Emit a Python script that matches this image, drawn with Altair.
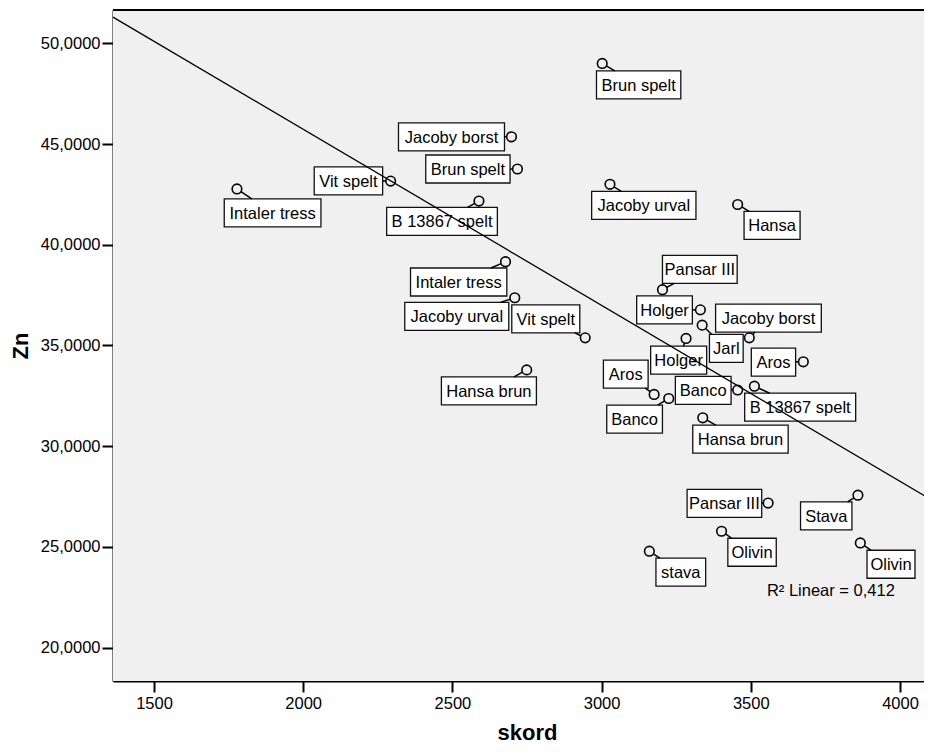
import math
import altair as alt
import pandas as pd

# ---------------- data ----------------
names = ["Intaler tress", "Vit spelt", "Jacoby borst", "Brun spelt", "Brun spelt",
         "B 13867 spelt", "Jacoby urval", "Hansa", "Intaler tress", "Jacoby urval",
         "Vit spelt", "Hansa brun", "Pansar III", "Holger", "Jarl", "Jacoby borst",
         "Holger", "Aros", "Aros", "Banco", "Banco", "B 13867 spelt", "Hansa brun",
         "Pansar III", "Stava", "Olivin", "Olivin", "stava"]
skord = [1778, 2293, 2698, 2718, 3002, 2589, 3028, 3456, 2678, 2709,
         2945, 2749, 3204, 3331, 3337, 3495, 3283, 3676, 3176, 3225,
         3456, 3512, 3339, 3558, 3859, 3402, 3867, 3160]
zn = [42.77, 43.16, 45.36, 43.76, 49.00, 42.17, 43.00, 42.00, 39.16, 37.37,
      35.38, 33.79, 37.77, 36.77, 36.01, 35.38, 35.35, 34.19, 32.57, 32.37,
      32.79, 32.98, 31.41, 27.18, 27.57, 25.78, 25.20, 24.79]

x_ticks = [1500, 2000, 2500, 3000, 3500, 4000]
y_ticks = [20, 25, 30, 35, 40, 45, 50]

r2_label = ["R² Linear = 0,412"]
r2_x = [3554]
r2_y = [22.57]

# ---------------- layout (label box placement, pixels) ----------------
lab_dx = [-12.7, -76.4, -113, -91.7, -5.7, -92.3, -18.3, 6.4, -95, -110,
          -73.4, -85.3, 0, -63.7, 7.3, -33.7, -35.4, -52, -50.7, -62,
          -62.3, -9.7, -10, -81, -57.4, 6.3, 6.7, 6.6]
lab_dy = [10, -14.3, -14, -14, 7.4, 6.3, 7, 7, 6.3, 4.6,
          -33, 7, -34.4, -14, 9.3, -33.7, 7.7, -13.7, -34.3, 6.7,
          -13.7, 7, 7.3, -13.7, 6.7, 7, 7.3, 7]
lab_w = [96.7, 68.4, 106, 84.3, 84.3, 110.7, 104.3, 56, 96.3, 104,
         68, 95, 74.7, 55.7, 33.7, 105.7, 56, 44.3, 44.7, 55.7,
         55.7, 111, 95.4, 74.6, 51.4, 48.4, 48, 49.7]
BOX_H = 28
R_CIRC = 4.8

W, H = 811, 671
PPX = 746 / 2500.0       # pixels per skord unit
PPY = 604.4 / 30.0       # pixels per Zn unit
X0 = 1500 - 41 / PPX
X1 = X0 + W / PPX
Y1 = 50 + 33.3 / PPY
Y0 = Y1 - H / PPY

FONT = "Liberation Sans"

pts = pd.DataFrame({"name": names, "skord": skord, "zn": zn})

# label boxes
rows = []
leads = []
for n, x, y, dx, dy, w in zip(names, skord, zn, lab_dx, lab_dy, lab_w):
    xl = x + dx / PPX
    xr = x + (dx + w) / PPX
    yt = y - dy / PPY
    yb = y - (dy + BOX_H) / PPY
    rows.append({"name": n, "xl": xl, "xr": xr, "yt": yt, "yb": yb,
                 "xc": (xl + xr) / 2, "yc": (yt + yb) / 2})
    # leader: from circle edge toward box centre, clipped at box edge
    bcx, bcy = dx + w / 2, dy + BOX_H / 2
    tmins = []
    for lo, hi, d in ((dx, dx + w, bcx), (dy, dy + BOX_H, bcy)):
        if abs(d) < 1e-9:
            tmins.append(-1e9)
        else:
            tmins.append(min(lo / d, hi / d))
    t = max(tmins)
    if t <= 0:
        continue
    ex, ey = t * bcx, t * bcy
    L = math.hypot(ex, ey)
    if L <= R_CIRC + 0.8:
        continue
    sx, sy = R_CIRC * ex / L, R_CIRC * ey / L
    leads.append({"x": x + sx / PPX, "y": y - sy / PPY,
                  "x2": x + ex / PPX, "y2": y - ey / PPY})

boxes = pd.DataFrame(rows)
leaders = pd.DataFrame(leads)
ann = pd.DataFrame({"t": r2_label, "x": r2_x, "y": r2_y})

xs = alt.Scale(domain=[X0, X1], nice=False, zero=False)
ys = alt.Scale(domain=[Y0, Y1], nice=False, zero=False)

x_axis = alt.Axis(values=x_ticks, format="d", grid=False, tickSize=11, tickWidth=2,
                  domainWidth=2, domainColor="black", tickColor="black",
                  labelFontSize=16.5, labelColor="black", labelPadding=3,
                  labelFont=FONT, title="skord", titleFontSize=22,
                  titleFontWeight="bold", titleFont=FONT, titleColor="black",
                  titleX=414, titleY=58, titleBaseline="alphabetic",
                  titleAlign="center", labelFlush=False, orient="bottom")
y_axis = alt.Axis(values=y_ticks,
                  labelExpr="replace(format(datum.value, '.4f'), '.', ',')",
                  grid=False, tickSize=11, tickWidth=2, domainWidth=2,
                  domainColor="black", tickColor="black", labelFontSize=16.5,
                  labelColor="black", labelPadding=2, labelFont=FONT,
                  title="Zn", titleFontSize=22, titleFontWeight="bold",
                  titleFont=FONT, titleColor="black", titleX=-92.5,
                  titleY=H / 2, titleAngle=270, titleBaseline="middle",
                  titleAlign="center", labelFlush=False, orient="left")


def X(field):
    return alt.X(field, type="quantitative", scale=xs, axis=x_axis)


def Y(field):
    return alt.Y(field, type="quantitative", scale=ys, axis=y_axis)


bg = alt.Chart(ann).mark_rect(fill="#F0F0F0", strokeWidth=0).encode(
    x=alt.value(0), x2=alt.value(W), y=alt.value(0), y2=alt.value(H))

top_border = alt.Chart(ann).mark_rect(fill="black", strokeWidth=0).encode(
    x=alt.value(0), x2=alt.value(W), y=alt.value(-1), y2=alt.value(1))

rects = alt.Chart(boxes).mark_rect(fill="white", stroke="#111111",
                                   strokeWidth=1.3).encode(
    x=X("xl"), x2="xr:Q", y=Y("yt"), y2="yb:Q")

texts = alt.Chart(boxes).mark_text(font=FONT, fontSize=16.5, color="black",
                                   align="center", baseline="middle", dy=1).encode(
    x=X("xc"), y=Y("yc"), text="name:N")

lead_rules = alt.Chart(leaders).mark_rule(color="black", strokeWidth=1.5).encode(
    x=X("x"), y=Y("y"), x2="x2:Q", y2="y2:Q")

circles = alt.Chart(pts).mark_point(shape="circle", filled=False, size=92,
                                    color="black", strokeWidth=1.6, opacity=1).encode(
    x=X("skord"), y=Y("zn"))

reg = alt.Chart(pts).transform_regression(
    "skord", "zn", extent=[X0, X1]).mark_line(color="black", strokeWidth=1.3).encode(
    x=X("skord"), y=Y("zn"))

r2 = alt.Chart(ann).mark_text(font=FONT, fontSize=16.5, color="black",
                              align="left", baseline="alphabetic").encode(
    x=X("x"), y=Y("y"), text="t:N")

chart = alt.layer(bg, rects, texts, lead_rules, circles, reg, r2, top_border).properties(
    width=W, height=H,
    autosize=alt.AutoSizeParams(type="none"),
    padding={"left": 105, "top": 2, "right": 0, "bottom": 65},
    background="white",
).configure_view(fill="white", fillOpacity=0, stroke="white", strokeOpacity=0,
                 strokeWidth=0)

chart.save("out.html", embed_options={"renderer": "svg", "actions": False})
